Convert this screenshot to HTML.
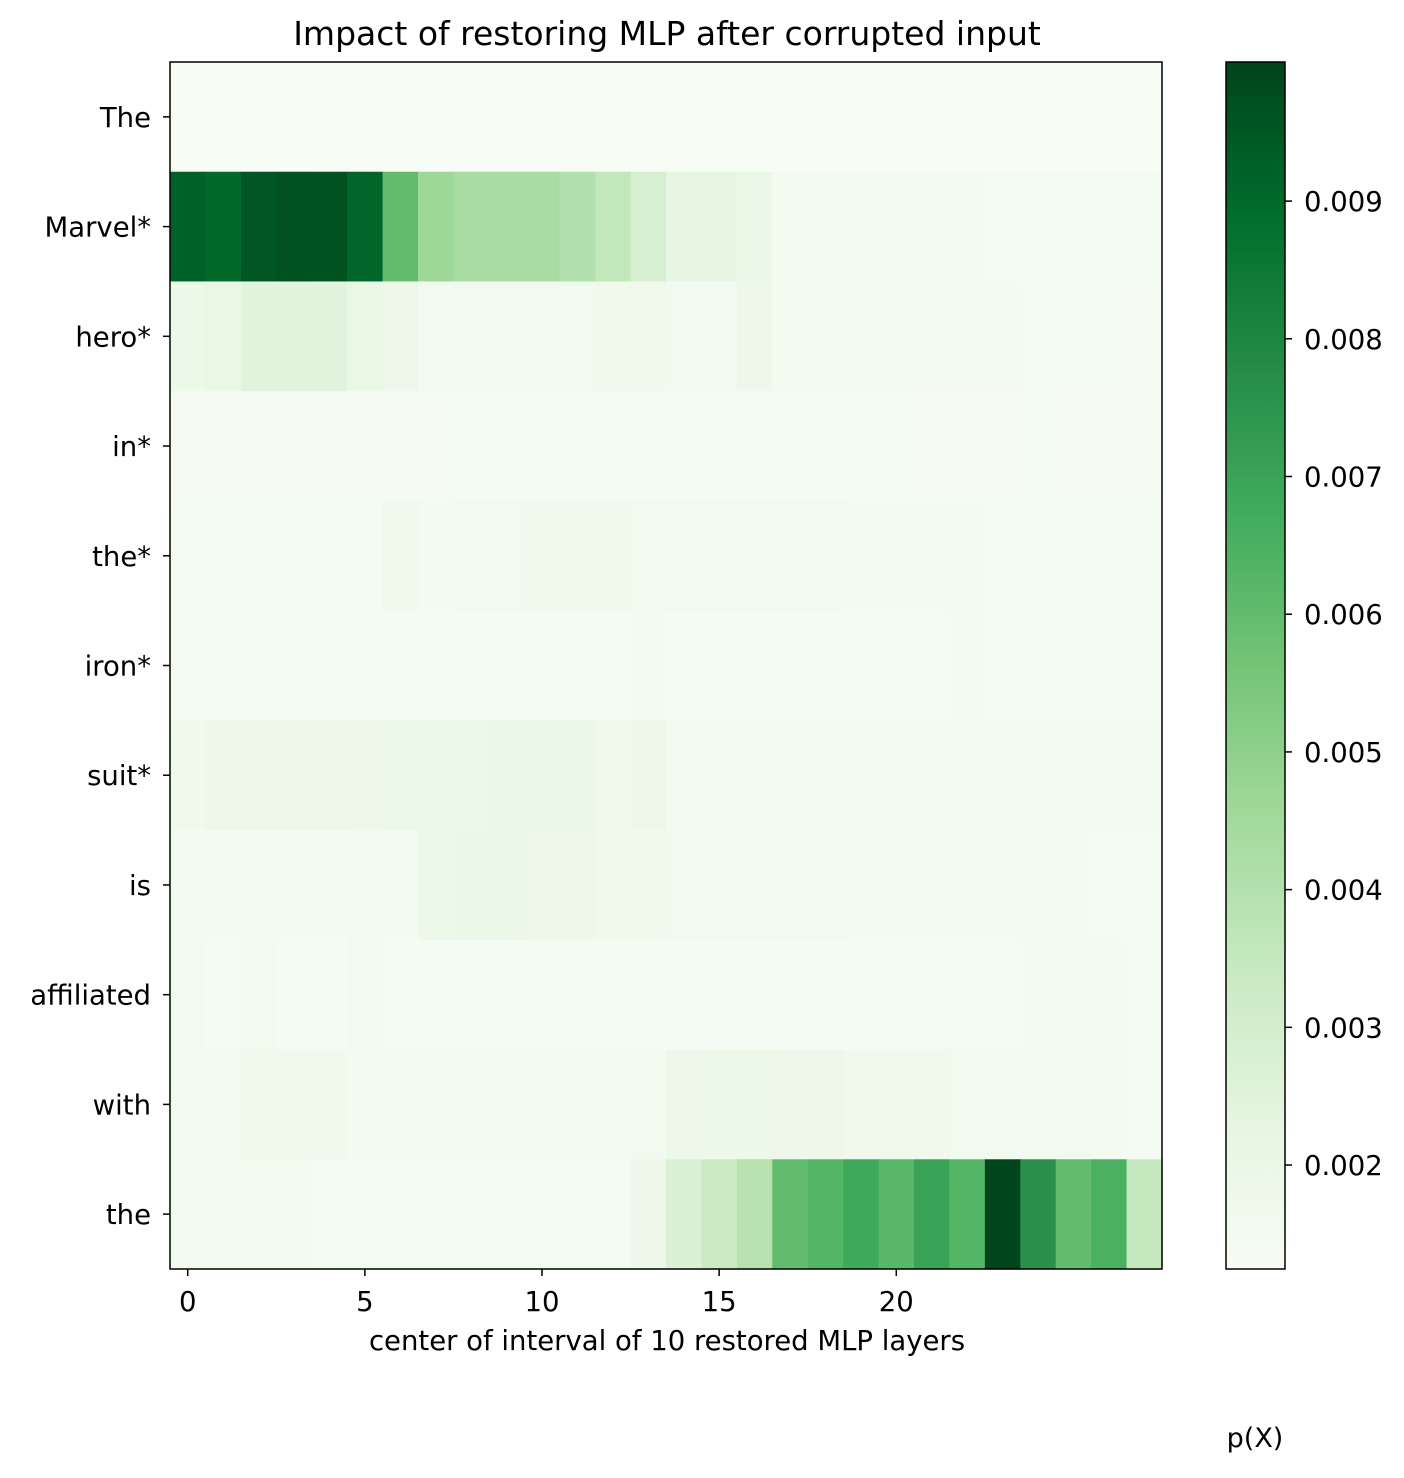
<!DOCTYPE html>
<html><head><meta charset="utf-8"><style>
body{margin:0;background:#fff;font-family:"Liberation Sans","DejaVu Sans",sans-serif}
svg text{font-family:"DejaVu Sans","Liberation Sans",sans-serif;fill:#000}
</style></head><body>
<svg id="chart" width="1404" height="1473" xmlns="http://www.w3.org/2000/svg">
<defs><linearGradient id="cbg" x1="0" y1="1" x2="0" y2="0">
<stop offset="0" stop-color="#f7fcf5"/><stop offset="0.125" stop-color="#e5f5e0"/><stop offset="0.25" stop-color="#c7e9c0"/><stop offset="0.375" stop-color="#a1d99b"/><stop offset="0.5" stop-color="#74c476"/><stop offset="0.625" stop-color="#41ab5d"/><stop offset="0.75" stop-color="#238b45"/><stop offset="0.875" stop-color="#006d2c"/><stop offset="1" stop-color="#00441b"/>
</linearGradient></defs>
<text x="667" y="45" font-size="33" text-anchor="middle">Impact of restoring MLP after corrupted input</text>
<g id="cells"></g>
<rect x="170" y="62" width="992" height="1207" fill="none" stroke="#000" stroke-width="1.5"/>
<g id="axes"></g>
<text x="667" y="1350" font-size="27.5" text-anchor="middle">center of interval of 10 restored MLP layers</text>
<rect x="1226" y="62" width="59" height="1207" fill="url(#cbg)" stroke="#000" stroke-width="1.5"/>
<g id="cbticks"></g>
<text x="1255" y="1447" font-size="27" text-anchor="middle">p(X)</text>
</svg>
<script>
const tokens=["The","Marvel*","hero*","in*","the*","iron*","suit*","is","affiliated","with","the"];
const xTicks=[0,5,10,15,20];
const cbTicks=[0.002,0.003,0.004,0.005,0.006,0.007,0.008,0.009];
const vmin=0.001245, vmax=0.01001;
const rowThe=[0.00125,0.00125,0.00125,0.00125,0.00125,0.00125,0.00125,0.00125,0.00125,0.00125,0.00125,0.00125,0.00125,0.00125,0.00125,0.00125,0.00125,0.00125,0.00125,0.00125,0.00125,0.00125,0.00125,0.00125,0.00125,0.00125,0.00125,0.00125];
const rowMarvel=[0.0092,0.0090,0.0095,0.0097,0.0096,0.0091,0.0060,0.0046,0.0043,0.0043,0.0043,0.0040,0.0036,0.0029,0.0022,0.0022,0.0020,0.0015,0.0015,0.0015,0.0015,0.0015,0.0015,0.0014,0.0014,0.0014,0.0014,0.0014];
const rowHero=[0.0019,0.0021,0.0024,0.0024,0.0024,0.0021,0.0018,0.0016,0.0016,0.0016,0.0016,0.0016,0.0017,0.0017,0.0016,0.0016,0.0018,0.0015,0.0015,0.0015,0.0015,0.0015,0.0015,0.0015,0.0014,0.0014,0.0014,0.0013];
const rowIn=[0.00135,0.00135,0.00135,0.00135,0.00135,0.00135,0.00135,0.00135,0.0014,0.0014,0.0014,0.0014,0.0014,0.0014,0.0014,0.0014,0.0014,0.0014,0.0014,0.0014,0.0014,0.00135,0.00135,0.00135,0.0014,0.00135,0.00135,0.00135];
const rowThe2=[0.0014,0.0014,0.0014,0.0014,0.0014,0.0014,0.0017,0.0015,0.0016,0.0016,0.0017,0.0017,0.0017,0.0016,0.0016,0.0016,0.0016,0.0016,0.0016,0.0015,0.0015,0.0015,0.0015,0.0014,0.0014,0.0014,0.0014,0.0014];
const rowIron=[0.0014,0.0014,0.0014,0.0014,0.0014,0.0014,0.0014,0.0014,0.00145,0.00145,0.00145,0.00145,0.00145,0.0015,0.00145,0.00145,0.00145,0.00145,0.00145,0.00145,0.00145,0.00145,0.0015,0.0014,0.0014,0.0014,0.0014,0.0014];
const rowSuit=[0.0017,0.0018,0.0018,0.0018,0.00185,0.00185,0.0019,0.0019,0.0019,0.002,0.002,0.002,0.0017,0.0018,0.0016,0.0015,0.0016,0.0016,0.0016,0.0016,0.0016,0.0016,0.0015,0.0015,0.0015,0.0015,0.0015,0.0015];
const rowIs=[0.0015,0.0015,0.0015,0.0015,0.0015,0.0016,0.0015,0.0019,0.002,0.002,0.0018,0.0018,0.0017,0.0017,0.0016,0.0016,0.0016,0.0016,0.0016,0.0015,0.0015,0.0015,0.0015,0.0015,0.0015,0.0015,0.0014,0.0014];
const rowAffil=[0.0016,0.0014,0.0016,0.0014,0.0014,0.0016,0.0014,0.0014,0.0014,0.0014,0.0014,0.0014,0.0014,0.0014,0.0014,0.0014,0.0014,0.0014,0.0014,0.0014,0.0014,0.0014,0.0014,0.0014,0.0015,0.0015,0.0015,0.0014];
const rowWith=[0.0016,0.0016,0.0017,0.0017,0.0017,0.0015,0.0016,0.0015,0.0015,0.0016,0.0015,0.0015,0.0016,0.0016,0.0018,0.0019,0.0019,0.0018,0.0018,0.0017,0.0017,0.0017,0.0016,0.0016,0.0015,0.0016,0.0015,0.0014];
const rowLast=[0.0015,0.0015,0.0015,0.0015,0.0014,0.0014,0.0014,0.0014,0.0014,0.0014,0.0014,0.0014,0.0014,0.0018,0.0027,0.0033,0.0039,0.0060,0.0063,0.0068,0.0062,0.0070,0.0063,0.00998,0.0076,0.0060,0.0065,0.0035];
const rows=[rowThe,rowMarvel,rowHero,rowIn,rowThe2,rowIron,rowSuit,rowIs,rowAffil,rowWith,rowLast];
const stops=["#f7fcf5","#e5f5e0","#c7e9c0","#a1d99b","#74c476","#41ab5d","#238b45","#006d2c","#00441b"].map(h=>[1,3,5].map(i=>parseInt(h.substr(i,2),16)));
function color(v){let t=Math.max(0,Math.min(1,(v-vmin)/(vmax-vmin)))*8;let i=Math.min(7,Math.floor(t)),f=t-i;const a=stops[i],b=stops[i+1];return "rgb("+a.map((c,k)=>Math.round(c+(b[k]-c)*f)).join(",")+")";}
const X0=170,W=992,Y0=62,H=1207,nC=28,nR=tokens.length,cw=W/nC,rh=H/nR;
const xS=c=>X0+c*cw, yS=r=>Y0+r*rh;
const cbY=v=>Y0+H-(v-vmin)/(vmax-vmin)*H;
const NS="http://www.w3.org/2000/svg";
function mk(tag,attrs,parent){const e=document.createElementNS(NS,tag);for(const k in attrs)e.setAttribute(k,attrs[k]);parent.appendChild(e);return e;}
const cells=document.getElementById("cells"),axes=document.getElementById("axes"),cbt=document.getElementById("cbticks");
rows.forEach((row,r)=>row.forEach((v,c)=>{
 const e=mk("rect",{x:xS(c),y:yS(r),width:cw+0.6,height:rh+0.6,fill:color(v)},cells);
 
 
}));
tokens.forEach((t,r)=>{
 const y=yS(r)+rh/2;
 mk("line",{x1:X0-7,x2:X0,y1:y,y2:y,stroke:"#000","stroke-width":1.5},axes);
 const e=mk("text",{x:X0-19,y:y+10,"font-size":27.5,"text-anchor":"end"},axes);e.textContent=t;
 
 
});
xTicks.forEach(c=>{
 const x=xS(c)+cw/2;
 mk("line",{x1:x,x2:x,y1:Y0+H,y2:Y0+H+7,stroke:"#000","stroke-width":1.5},axes);
 const e=mk("text",{x:x,y:Y0+H+42,"font-size":27.5,"text-anchor":"middle"},axes);e.textContent=c;
 
 
});
cbTicks.forEach(v=>{
 const y=cbY(v);
 mk("line",{x1:1285,x2:1292,y1:y,y2:y,stroke:"#000","stroke-width":1.5},cbt);
 const e=mk("text",{x:1304,y:y+10,"font-size":27.5},cbt);e.textContent=v.toFixed(3);
 
 
});
</script>
</body></html>
